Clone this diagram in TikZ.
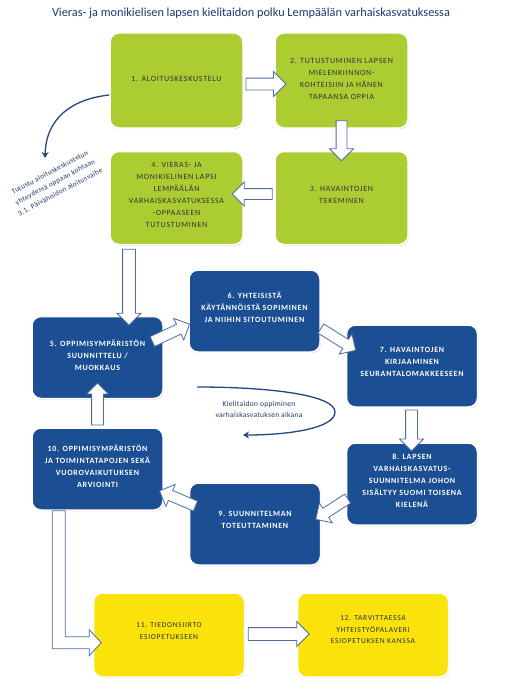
\documentclass[tikz,border=0pt]{standalone}
\usepackage{fontspec}
\setmainfont{Carlito}
\newfontfamily\boxfont[LetterSpace=9]{Carlito}
\newfontfamily\notefont[LetterSpace=4]{Carlito}
\usetikzlibrary{shapes.arrows,shadows,calc,arrows.meta}
\definecolor{gfill}{RGB}{172,205,50}
\definecolor{bfill}{RGB}{28,78,148}
\definecolor{yfill}{RGB}{250,226,10}
\definecolor{aline}{RGB}{79,108,160}
\definecolor{titlec}{RGB}{31,56,110}
\definecolor{darktxt}{RGB}{45,50,60}
\definecolor{curvec}{RGB}{35,70,130}
\begin{document}
\begin{tikzpicture}[x=1pt,y=-1pt,
  box/.style={rectangle, rounded corners=9pt, draw=white, line width=1.5pt,
    drop shadow={shadow xshift=0.8pt,shadow yshift=-1.2pt,opacity=0.3}, inner sep=0pt},
  gbox/.style={box, fill=gfill, minimum width=133pt, minimum height=95pt},
  gbox2/.style={box, fill=gfill, minimum width=133pt, minimum height=93pt},
  bbox/.style={box, fill=bfill, minimum width=131pt, minimum height=82pt},
  ybox/.style={box, fill=yfill, minimum width=151pt, minimum height=84pt},
  dtxt/.style={font=\boxfont\fontsize{8}{12}\selectfont, align=center, text=darktxt, inner sep=0pt},
  wtxt/.style={font=\boxfont\bfseries\fontsize{8}{12}\selectfont, align=center, text=white, inner sep=0pt},
  ytxt/.style={font=\boxfont\fontsize{7.6}{11.5}\selectfont, align=center, text=darktxt, inner sep=0pt},
  barrow/.style={single arrow, draw=aline, fill=white, line width=0.8pt, inner xsep=0pt, inner ysep=5.5pt,
    single arrow head extend=6.5pt, single arrow tip angle=90},
  elbow/.style={draw=aline, fill=white, line width=0.8pt, line join=miter},
  curvearrow/.style={draw=curvec, line width=1.3pt, -{Stealth[length=6pt,width=7pt]}},
  note/.style={font=\notefont\fontsize{7.3}{11}\selectfont, align=center, text=titlec, inner sep=0pt}
]
\useasboundingbox (0,0) rectangle (507,693);
\fill[white] (0,0) rectangle (507,693);

% title
\node[font=\fontsize{12.3}{14}\selectfont, text=titlec, inner sep=0pt] (title) at (251,13)
  {Vieras- ja monikielisen lapsen kielitaidon polku Lempäälän varhaiskasvatuksessa};

% boxes
\node[gbox] (b1) at (176.5,80.5) {};
\node[gbox] (b2) at (341.5,80.5) {};
\node[gbox2] (b3) at (341.5,198) {};
\node[gbox2] (b4) at (176.5,198) {};
\node[bbox] (b5) at (97.5,357.5) {};
\node[bbox] (b6) at (254.5,311) {};
\node[bbox] (b7) at (412,366) {};
\node[bbox] (b8) at (412,484) {};
\node[bbox] (b9) at (255,524) {};
\node[bbox] (b10) at (97.5,469) {};
\node[ybox] (b11) at (169,635) {};
\node[ybox] (b12) at (373,635) {};

% texts
\node[dtxt] (t1) at ([yshift=2pt]b1.center) {1. ALOITUSKESKUSTELU};
\node[dtxt] (t2) at ([yshift=2pt]b2.center) {2. TUTUSTUMINEN LAPSEN\\MIELENKIINNON-\\KOHTEISIIN JA HÄNEN\\TAPAANSA OPPIA};
\node[dtxt] (t3) at ([yshift=3pt]b3.center) {3. HAVAINTOJEN\\TEKEMINEN};
\node[dtxt] (t4) at ([yshift=3pt]b4.center) {4. VIERAS- JA\\MONIKIELINEN LAPSI\\LEMPÄÄLÄN\\VARHAISKASVATUKSESSA\\-OPPAASEEN\\TUTUSTUMINEN};
\node[wtxt] (t5) at ([yshift=2pt]b5.center) {5. OPPIMISYMPÄRISTÖN\\SUUNNITTELU /\\MUOKKAUS};
\node[wtxt] (t6) at ([yshift=4pt]b6.center) {6. YHTEISISTÄ\\KÄYTÄNNÖISTÄ SOPIMINEN\\JA NIIHIN SITOUTUMINEN};
\node[wtxt] (t7) at ([yshift=4pt]b7.center) {7. HAVAINTOJEN\\KIRJAAMINEN\\SEURANTALOMAKKEESEEN};
\node[wtxt] (t8) at ([yshift=3pt]b8.center) {8. LAPSEN\\VARHAISKASVATUS-\\SUUNNITELMA JOHON\\SISÄLTYY SUOMI TOISENA\\KIELENÄ};
\node[wtxt] (t9) at ([yshift=4pt]b9.center) {9. SUUNNITELMAN\\TOTEUTTAMINEN};
\node[wtxt] (t10) at ([yshift=3pt]b10.center) {10. OPPIMISYMPÄRISTÖN\\JA TOIMINTATAPOJEN SEKÄ\\VUOROVAIKUTUKSEN\\ARVIOINTI};
\node[ytxt] (t11) at ([yshift=4pt]b11.center) {11. TIEDONSIIRTO\\ESIOPETUKSEEN};
\node[ytxt] (t12) at ([yshift=5pt]b12.center) {12. TARVITTAESSA\\YHTEISTYÖPALAVERI\\ESIOPETUKSEN KANSSA};

% block arrows
\node[barrow, minimum height=40pt] (a12) at (263,84) {};
\node[barrow, minimum height=40pt, inner ysep=5pt, rotate=-90] (a23) at (341.5,138) {};
\node[barrow, minimum height=40pt, inner ysep=5pt, rotate=180] (a34) at (255,194) {};
\node[barrow, minimum height=76pt, inner ysep=6pt, single arrow head extend=5.5pt, rotate=-90] (a45) at (129,284) {};
\node[barrow, minimum height=41pt, inner ysep=5pt, rotate=25] (a56) at (168.5,334) {};
\node[barrow, minimum height=41pt, inner ysep=5pt, rotate=-32] (a67) at (336,338) {};
\node[barrow, minimum height=41pt, inner ysep=5.5pt, single arrow head extend=6pt, rotate=-90] (a78) at (411.5,427.5) {};
\node[barrow, minimum height=38pt, inner ysep=5pt, rotate=213] (a89) at (334,507.5) {};
\node[barrow, minimum height=39pt, inner ysep=5pt, rotate=157] (a910) at (180,499.5) {};
\node[barrow, minimum height=42pt, inner ysep=5.5pt, single arrow head extend=5pt, rotate=90] (a105) at (97.5,407) {};
\node[barrow, minimum height=61pt, inner ysep=6pt, single arrow head extend=6pt] (a1112) at (275.5,634) {};

% elbow arrow 10 -> 11
\path[elbow] ([xshift=21pt]b10.south west) -- ++(0,138) -- ++(37,0) -- ++(0,7)
  -- ++(12,-13) -- ++(-12,-13) -- ++(0,7) -- ++(-24,0) -- ++(0,-126) -- cycle;

% left curved note arrow
\coordinate (c1) at (45,158);
\draw[curvearrow] ([yshift=-14.5pt]b1.west) .. controls (72,99) and (46,118) .. (c1);
\node[note, rotate=28] (n1) at (55,182) {Tutustu aloituskeskustelun\\yhteydessä oppaan kohtaan\\3.1. Päivähoidon aloitusvaihe};

% middle curved arrow
\coordinate (m0) at (197,387);
\coordinate (m1) at (335,412);
\coordinate (m2) at (243,435);
\draw[curvearrow] (m0) .. controls (270,387) and (335,395) .. (m1) .. controls (335,428) and (290,435) .. (m2);
\node[note, font=\notefont\fontsize{7.5}{11}\selectfont] (n2) at (259,409) {Kielitaidon oppiminen\\varhaiskasvatuksen aikana};
\end{tikzpicture}
\end{document}
